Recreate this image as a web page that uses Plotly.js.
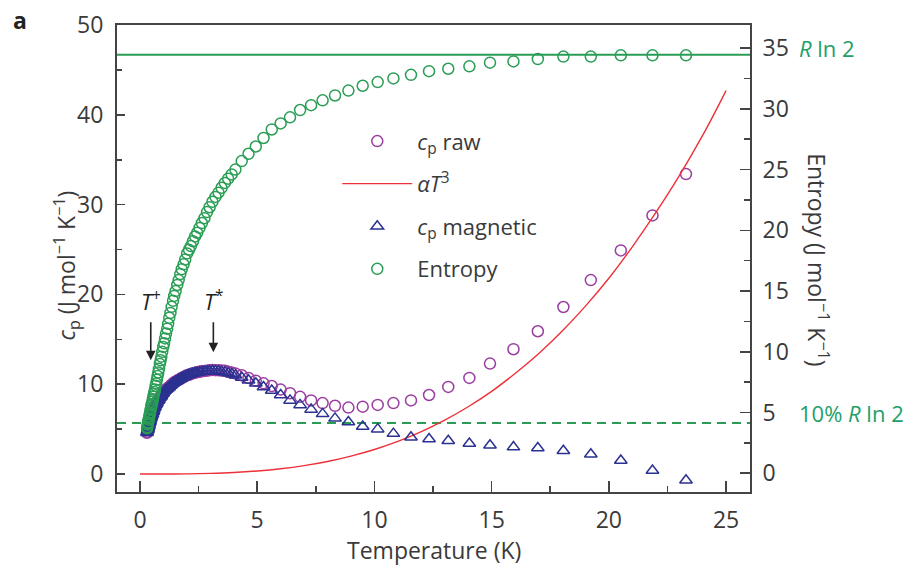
<!DOCTYPE html>
<html><head><meta charset="utf-8">
<script src="https://cdn.plot.ly/plotly-3.0.1.min.js"></script>
<style>body{margin:0;background:#fff}#chart{width:910px;height:570px}</style>
</head><body><div id="chart"></div>
<script>
// Temperature grid (K)
const temps = [0.30,0.31,0.33,0.34,0.35,0.37,0.38,0.40,0.42,0.43,
 0.45,0.47,0.49,0.51,0.53,0.55,0.57,0.59,0.62,0.64,
 0.67,0.69,0.72,0.75,0.78,0.81,0.85,0.88,0.91,0.95,
 0.99,1.03,1.07,1.11,1.16,1.20,1.25,1.30,1.35,1.41,
 1.46,1.52,1.59,1.65,1.72,1.78,1.86,1.93,2.01,2.09,
 2.17,2.26,2.35,2.44,2.54,2.64,2.75,2.86,2.97,3.09,
 3.22,3.35,3.48,3.62,3.76,3.91,
 4.07,4.34,4.63,4.94,5.27,5.62,6.00,6.40,6.83,7.30,7.79,8.32,8.89,9.50,10.14,10.81,11.56,12.33,13.15,14.05,14.93,15.93,16.97,18.06,19.23,20.51,21.86,23.29];
// Entropy (right axis)
const entropy = [3.7,3.8,4.0,4.1,4.2,4.4,4.5,4.7,4.9,5.0,
 5.2,5.4,5.6,5.7,5.9,6.1,6.3,6.5,6.7,6.9,
 7.2,7.4,7.7,8.0,8.3,8.6,9.0,9.3,9.6,10.0,
 10.4,10.7,11.1,11.5,11.9,12.3,12.8,13.2,13.7,14.2,
 14.6,15.0,15.5,15.9,16.4,16.8,17.2,17.6,18.1,18.4,
 18.7,19.1,19.5,19.8,20.2,20.6,21.0,21.5,21.9,22.35,
 22.75,23.1,23.5,23.9,24.25,24.6,
 25.0,25.7,26.3,26.9,27.6,28.3,28.8,29.3,29.9,30.3,30.7,31.1,31.5,31.9,32.2,32.5,32.8,33.1,33.3,33.5,33.8,33.9,34.1,34.3,34.3,34.4,34.4,34.4];
// cp magnetic (left axis)
const cpMag = [4.6,4.7,4.9,5.0,5.1,5.3,5.4,5.6,5.8,5.9,
 6.1,6.3,6.4,6.6,6.7,6.9,7.0,7.2,7.4,7.5,
 7.7,7.8,7.9,8.1,8.2,8.3,8.5,8.6,8.7,8.9,
 9.0,9.2,9.3,9.4,9.5,9.6,9.7,9.85,9.95,10.1,
 10.2,10.3,10.4,10.5,10.6,10.7,10.8,10.9,11.0,11.05,
 11.1,11.2,11.25,11.3,11.35,11.4,11.42,11.45,11.48,11.5,
 11.48,11.45,11.4,11.35,11.25,11.15,
 11.0,10.75,10.45,10.1,9.7,9.3,8.8,8.2,7.7,7.2,6.7,6.2,5.8,5.3,5.0,4.5,4.1,3.9,3.7,3.4,3.2,3.0,2.9,2.6,2.2,1.5,0.4,-0.7];
// cp raw (left axis)
const cpRaw = [4.6,4.7,4.9,5.0,5.1,5.3,5.4,5.6,5.8,5.9,
 6.1,6.3,6.4,6.6,6.7,6.9,7.0,7.2,7.4,7.5,
 7.7,7.8,7.9,8.1,8.2,8.3,8.5,8.6,8.7,8.9,
 9.0,9.2,9.3,9.4,9.5,9.6,9.7,9.85,9.95,10.1,
 10.2,10.3,10.4,10.5,10.6,10.7,10.8,10.9,11.0,11.06,
 11.13,11.23,11.29,11.34,11.39,11.45,11.48,11.51,11.55,11.58,
 11.57,11.55,11.52,11.5,11.4,11.3,
 11.2,11.0,10.7,10.4,10.1,9.8,9.4,9.0,8.6,8.2,7.9,7.6,7.4,7.5,7.7,7.9,8.2,8.8,9.7,10.7,12.3,13.9,15.9,18.6,21.6,24.9,28.8,33.4];
// alpha T^3 curve
const fitT  = [0,1,2,3,4,5,6,7,8,9,10,11,12,13,14,15,16,17,18,19,20,21,22,23,24,25];
const fitCp = [0,0.0,0.02,0.07,0.17,0.34,0.59,0.94,1.4,2.0,2.73,3.63,4.72,6.0,7.49,9.2,11.2,13.4,15.9,18.7,21.8,25.3,29.1,33.2,37.7,42.7];
// reference levels (left-axis units)
const refNames = ['R ln 2', '10% R ln 2'];
const refLevels = [46.7, 5.67];
const xTicks = [0,5,10,15,20,25];
const yTicks = [0,10,20,30,40,50];
const y2Ticks = [0,5,10,15,20,25,30,35];

const FONT = 'Open Sans, Noto Sans, sans-serif';
const TXT = '#3a3a3a';
const GREEN = '#2a9d55';
const PURPLE = '#9a3da0';
const NAVY = '#2b3190';
const RED = '#ee3038';

const traces = [
 {x: temps, y: cpRaw, type:'scatter', mode:'markers', name:'<i>c</i><sub>p</sub> raw', legendgroup:'a',
  marker:{symbol:'circle-open', size:11, color:PURPLE, line:{width:1.5, color:PURPLE}}},
 {x: fitT, y: fitCp, type:'scatter', mode:'lines', name:'<i>αT</i><sup>3</sup>', legendgroup:'b',
  line:{color:RED, width:1.4, shape:'spline'}},
 {x: temps, y: cpMag, type:'scatter', mode:'markers', name:'<i>c</i><sub>p</sub> magnetic', legendgroup:'c',
  marker:{symbol:'triangle-up-open', size:11, color:NAVY, line:{width:1.5, color:NAVY}}},
 {x: temps, y: entropy, type:'scatter', mode:'markers', name:'Entropy', yaxis:'y2', legendgroup:'d',
  marker:{symbol:'circle-open', size:11, color:GREEN, line:{width:1.5, color:GREEN}}}
];

const shapes = refLevels.map((v,i)=>({type:'line', xref:'paper', x0:0, x1:1, yref:'y', y0:v, y1:v,
  line:{color:GREEN, width:2, dash: i===0 ? 'solid' : '9px,6px'}, layer:'below'}));

const axisCommon = {showgrid:false, zeroline:false, showline:true, linecolor:'#444', linewidth:2,
  ticks:'inside', tickcolor:'#444', tickwidth:1.6, tickfont:{family:FONT, size:23, color:TXT}};

const layout = {
  width:910, height:570, paper_bgcolor:'#fff', plot_bgcolor:'#fff',
  margin:{l:117, r:160, t:25, b:78},
  font:{family:FONT, color:TXT},
  showlegend:true,
  legend:{x:0.348, y:0.796, xanchor:'left', yanchor:'top', bgcolor:'rgba(0,0,0,0)',
    font:{family:FONT, size:22, color:TXT}, traceorder:'grouped', tracegroupgap:11, itemwidth:70},
  xaxis: Object.assign({}, axisCommon, {range:[-0.98, 26.02], tickvals:xTicks, ticklen:11, mirror:true,
    ticklabelstandoff:6, minor:{dtick:2.5, tick0:0, ticklen:6, ticks:'inside', tickcolor:'#444', tickwidth:1.6}}),
  yaxis: Object.assign({}, axisCommon, {range:[-2, 50], tickvals:yTicks, ticklen:8, ticklabelstandoff:7,
    minor:{dtick:5, tick0:0, ticklen:5, ticks:'inside', tickcolor:'#444', tickwidth:1.6}}),
  yaxis2: Object.assign({}, axisCommon, {range:[-1.54, 36.9], tickvals:y2Ticks, ticklen:10, overlaying:'y', side:'right',
    ticklabelstandoff:6, minor:{dtick:2.5, tick0:0, ticklen:6, ticks:'inside', tickcolor:'#444', tickwidth:1.6}}),
  shapes: shapes,
  annotations: [
    {text:'Temperature (K)', xref:'paper', yref:'paper', x:0.5, y:-0.124, xanchor:'center', yanchor:'middle',
     showarrow:false, font:{family:FONT, size:23, color:TXT}},
    {text:'<i>c</i><sub>p</sub> (J mol<sup>−1</sup> K<sup>−1</sup>)', xref:'paper', yref:'paper', x:-0.08, y:0.486,
     textangle:-90, xanchor:'center', yanchor:'middle', showarrow:false, font:{family:FONT, size:23, color:TXT}},
    {text:'Entropy (J mol<sup>−1</sup> K<sup>−1</sup>)', xref:'paper', yref:'paper', x:1.107, y:0.497,
     textangle:90, xanchor:'center', yanchor:'middle', showarrow:false, font:{family:FONT, size:23, color:TXT}},
    {text:'<i>R</i> ln 2', xref:'paper', yref:'y2', x:1.074, y:35, xanchor:'left', yanchor:'middle',
     showarrow:false, font:{family:FONT, size:22, color:'#22a06a'}},
    {text:'10% <i>R</i> ln 2', xref:'paper', yref:'y2', x:1.074, y:5, xanchor:'left', yanchor:'middle',
     showarrow:false, font:{family:FONT, size:22, color:'#22a06a'}},
    {text:'<b>a</b>', xref:'paper', yref:'paper', x:-0.168, y:1.01, xanchor:'left', yanchor:'middle',
     showarrow:false, font:{family:FONT, size:23, color:'#222'}},
    {text:'<i>T</i><sup>+</sup>', x:0.46, y:12.67, xref:'x', yref:'y', ax:0, ay:-60, showarrow:true,
     arrowhead:2, arrowsize:1.2, arrowwidth:1.6, arrowcolor:'#222', borderpad:6,
     font:{family:FONT, size:22, color:'#222'}},
    {text:'<i>T</i><sup>*</sup>', x:3.13, y:13.56, xref:'x', yref:'y', ax:0, ay:-52, showarrow:true,
     arrowhead:2, arrowsize:1.2, arrowwidth:1.6, arrowcolor:'#222', borderpad:6,
     font:{family:FONT, size:22, color:'#222'}}
  ]
};

Plotly.newPlot('chart', traces, layout, {displayModeBar:false, staticPlot:true});
</script></body></html>
